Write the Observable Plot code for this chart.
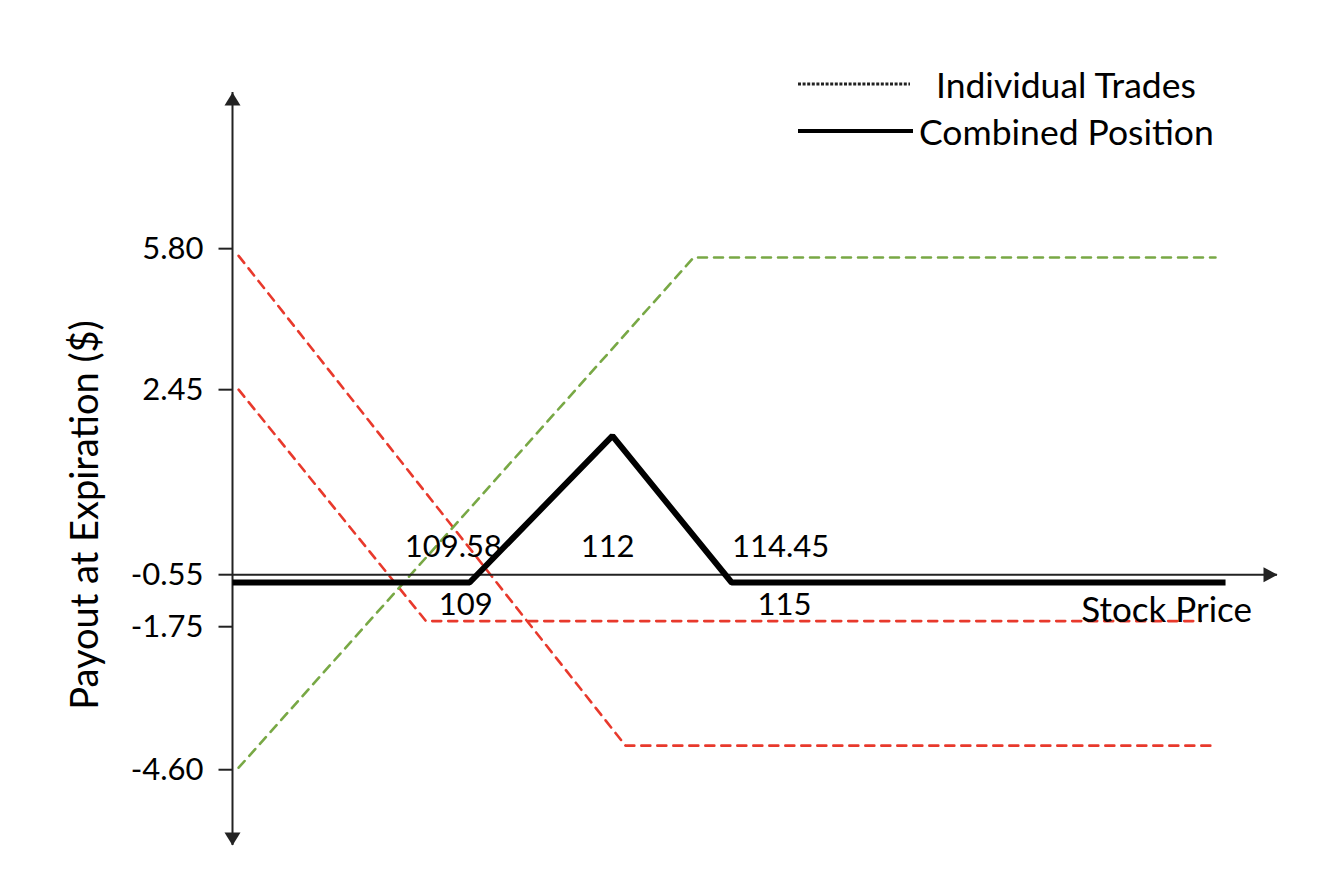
<!DOCTYPE html>
<html>
<head>
<meta charset="utf-8">
<script src="https://cdn.jsdelivr.net/npm/d3@7"></script>
<script src="https://cdn.jsdelivr.net/npm/@observablehq/plot@0.6"></script>
<style>
  html, body { margin: 0; padding: 0; background: #fff; }
  #wrap { position: relative; width: 1344px; height: 880px; font-family: Lato, sans-serif; }
  .lg { position: absolute; display: flex; align-items: center; height: 44px; color: #000; white-space: nowrap; font-size: 35.5px; }
  .lg svg { display: block; }
</style>
</head>
<body>
<div id="wrap">
  <div id="chart"></div>
  <div id="legend"></div>
</div>
<script>
// ---------- data ----------
const yTicks = [5.80, 2.45, -0.55, -1.75, -4.60];
const yTickLabels = ["5.80", "2.45", "-0.55", "-1.75", "-4.60"];

// individual trades (dashed)
const tradeA_price  = [103.71, 112.57, 126.01];
const tradeA_payout = [5.63, -4.12, -4.12];
const tradeB_price  = [103.71, 108.00, 125.74];
const tradeB_payout = [2.45, -1.62, -1.62];
const tradeC_price  = [103.71, 114.13, 126.08];
const tradeC_payout = [-4.56, 5.59, 5.59];

// combined position (solid)
const combined_price  = [103.57, 109.00, 112.27, 115.00, 126.31];
const combined_payout = [-0.73, -0.73, 1.70, -0.73, -0.73];

// annotation labels and where they sit
const annLabels = ["109.58", "112", "114.45", "109", "115"];
const annPrice  = [108.63, 112.16, 116.12, 108.91, 116.21];
const annPayout = [-0.10, -0.10, -0.10, -1.24, -1.24];

// axes extents
const priceRange  = [103.57, 127.5];   // y-axis sits at left end, arrow at right end
const payoutRange = [-6.11, 9.51];     // arrow tips of the vertical axis
const xAxisAt = -0.55;

const legendNames = ["Individual Trades", "Combined Position"];
const yTitle = "Payout at Expiration ($)";
const xTitle = "Stock Price";
const xTitlePos = {price: 124.96, payout: -1.39};

// ---------- build ----------
const rows = (px, py) => px.map((p, i) => ({price: p, payout: py[i]}));
const ann = annLabels.map((l, i) => ({label: l, price: annPrice[i], payout: annPayout[i]}));
const ticks = yTicks.map((t, i) => ({payout: t, label: yTickLabels[i], price: priceRange[0]}));
const sortedTicks = [...yTicks].sort((a, b) => a - b);

// the hand-drawn vertical axis is not evenly spaced: piecewise-linear payout scale
const payoutSpacing = d3.scaleLinear().domain(sortedTicks).range([111, 254, 306, 491, 632]);

const arrowUp    = {draw(c) { c.moveTo(0, 0); c.lineTo(8, 13); c.lineTo(-8, 13); c.closePath(); }};
const arrowDown  = {draw(c) { c.moveTo(0, 0); c.lineTo(8, -13); c.lineTo(-8, -13); c.closePath(); }};
const arrowRight = {draw(c) { c.moveTo(0, 0); c.lineTo(-14, -7.5); c.lineTo(-14, 7.5); c.closePath(); }};
const tickLeft   = {draw(c) { c.moveTo(-14, 0); c.lineTo(0, 0); }};

const RED = "#e8392c", GREEN = "#78a845", AXIS = "#222";
const dash = {strokeWidth: 2.6, strokeDasharray: "9,7"};

const chart = Plot.plot({
  width: 1344,
  height: 880,
  marginLeft: 232,
  marginRight: 67,
  marginTop: 92,
  marginBottom: 35,
  style: {fontFamily: "Lato, sans-serif", fontSize: "31px", color: "#000", background: "#fff", overflow: "visible"},
  x: {domain: priceRange, axis: null, label: null},
  y: {transform: payoutSpacing, axis: null, label: null},
  marks: [
    Plot.line(rows(tradeA_price, tradeA_payout), {x: "price", y: "payout", stroke: RED, ...dash}),
    Plot.line(rows(tradeB_price, tradeB_payout), {x: "price", y: "payout", stroke: RED, ...dash}),
    Plot.line(rows(tradeC_price, tradeC_payout), {x: "price", y: "payout", stroke: GREEN, ...dash}),
    // vertical axis line and arrows
    Plot.ruleX([{x: priceRange[0], y1: payoutRange[0], y2: payoutRange[1]}], {x: "x", y1: "y1", y2: "y2", stroke: AXIS, strokeWidth: 2}),
    Plot.dot([{x: priceRange[0], y: payoutRange[1]}], {x: "x", y: "y", symbol: arrowUp, fill: AXIS, stroke: "none"}),
    Plot.dot([{x: priceRange[0], y: payoutRange[0]}], {x: "x", y: "y", symbol: arrowDown, fill: AXIS, stroke: "none"}),
    // horizontal axis line and arrow
    Plot.ruleY([{y: xAxisAt, x1: priceRange[0], x2: priceRange[1]}], {y: "y", x1: "x1", x2: "x2", stroke: AXIS, strokeWidth: 2}),
    Plot.dot([{x: priceRange[1], y: xAxisAt}], {x: "x", y: "y", symbol: arrowRight, fill: AXIS, stroke: "none"}),
    // y ticks and labels
    Plot.dot(ticks, {x: "price", y: "payout", symbol: tickLeft, stroke: AXIS, strokeWidth: 2, fill: "none"}),
    Plot.text(ticks, {x: "price", y: "payout", text: "label", textAnchor: "end", dx: -29, fontSize: 31, fill: "#000"}),
    // combined position
    Plot.line(rows(combined_price, combined_payout), {x: "price", y: "payout", stroke: "#000", strokeWidth: 6, strokeLinejoin: "miter", strokeLinecap: "butt"}),
    // annotations
    Plot.text(ann, {x: "price", y: "payout", text: "label", fontSize: 31, fill: "#000"}),
    Plot.text([xTitle], {x: xTitlePos.price, y: xTitlePos.payout, fontSize: 35, fill: "#000"}),
    Plot.text([yTitle], {frameAnchor: "left", textAnchor: "middle", rotate: -90, dx: -147, dy: 46, fontSize: 38, fill: "#000"})
  ]
});
document.getElementById("chart").appendChild(chart);

// legend (top right)
const legend = document.getElementById("legend");
legend.innerHTML = `
  <div class="lg" style="left:798px; top:${84 - 22}px;">
    <svg width="112" height="6"><line x1="0" x2="112" y1="3" y2="3" stroke="#222" stroke-width="3" stroke-dasharray="3,1.6"/></svg>
    <span style="margin-left:26px">${legendNames[0]}</span>
  </div>
  <div class="lg" style="left:798px; top:${131 - 22}px;">
    <svg width="115" height="6"><line x1="0" x2="115" y1="3" y2="3" stroke="#000" stroke-width="4"/></svg>
    <span style="margin-left:6px">${legendNames[1]}</span>
  </div>`;
</script>
</body>
</html>
